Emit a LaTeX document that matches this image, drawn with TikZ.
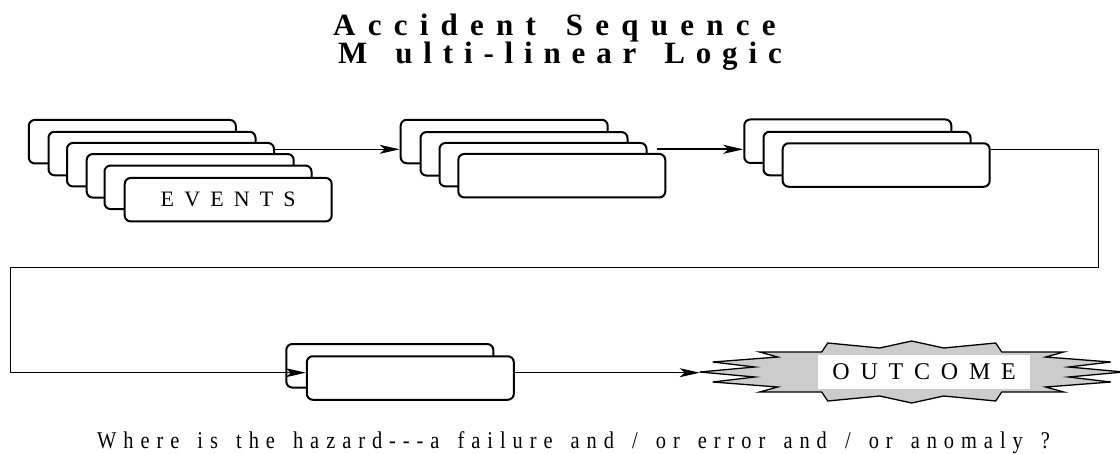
\documentclass[tikz,border=0pt]{standalone}
\usepackage{fontspec}
\setmainfont{Liberation Serif}
\newfontfamily\ttlfontA[LetterSpace=39.5,WordSpace=1.5]{Liberation Serif}
\newfontfamily\ttlfontB[LetterSpace=35,WordSpace=1.5]{Liberation Serif}
\newfontfamily\notefont[FakeStretch=0.85,LetterSpace=29,WordSpace=1.5]{Liberation Serif}
\usetikzlibrary{arrows.meta}
\pgfdeclarelayer{front}
\pgfsetlayers{main,front}
\begin{document}
\begin{tikzpicture}[x=1pt,y=-1pt,
  card/.style={draw, line width=2pt, rounded corners=6pt, fill=white,
    minimum width=207pt, minimum height=43.5pt, inner sep=0pt},
  conn/.style={line width=1pt},
  tipa/.style={-{Stealth[length=20pt,width=9pt,inset=5pt]}},
  lbl/.style={font=\fontsize{22}{22}\selectfont\addfontfeatures{LetterSpace=46}},
  ttl/.style={anchor=base west, inner sep=0pt},
  note/.style={font=\notefont\fontsize{24}{24}\selectfont, anchor=base west, inner sep=0pt}]
\useasboundingbox (0,0) rectangle (1120,453);

% title
\node[ttl, font=\ttlfontA\fontsize{31}{31}\selectfont\bfseries] (t1) at (333,35) {Accident Sequence};
\node[ttl, font=\ttlfontB\fontsize{31}{31}\selectfont\bfseries] (t2) at (338,63.3) {M ulti-linear Logic};

% group 1
\node[card] (b11) at (132.3,141.7) {};
\node[card] (b12) at (152.0,153.5) {};
\node[card] (b13) at (170.5,164.7) {};
\node[card] (b14) at (190.2,175.8) {};
\node[card] (b15) at (208.0,187.3) {};
\node[card,lbl] (b16) at (228.2,199.7) {EVENTS};

% group 2
\node[card] (b21) at (504.2,141.5) {};
\node[card] (b22) at (524.0,153.8) {};
\node[card] (b23) at (543.0,164.7) {};
\node[card] (b24) at (561.8,175.7) {};

% group 3
\node[card] (b31) at (847.8,141.2) {};
\node[card] (b32) at (867.0,153.5) {};
\node[card] (b33) at (886.2,165.0) {};

\coordinate (row) at (0,149.3);
\coordinate (row2) at (0,372.7);
\coordinate (r1) at (1098.3,267);
\coordinate (l1) at (10,267);

\draw[conn,tipa] (b13.east |- row) -- (b21.west |- row);
\draw[line width=2pt,tipa] ([xshift=9pt]b23.east |- row) -- (b31.west |- row);

% group 4
\node[card] (b41) at (389.8,365.8) {};
\begin{pgfonlayer}{front}
\node[card] (b42) at (410.3,378.0) {};
\end{pgfonlayer}
\draw[conn,tipa] (b33.east |- row) -| (r1) -- (l1) |- (b42.west |- row2);

% outcome star
\begin{scope}[shift={(911.7,372)}]
\draw[line width=1.3pt, fill=black!20, line join=miter]
  (-212,0) -- (-157,-5) -- (-199,-10) -- (-134,-15) -- (-152,-20) -- (-90,-20)
  -- (-84,-29) -- (-32,-24) -- (0,-31) -- (32,-24) -- (84,-29) -- (90,-20)
  -- (152,-20) -- (134,-15) -- (199,-10) -- (157,-5) -- (212,0)
  -- (157,5) -- (199,10) -- (134,15) -- (152,20) -- (90,20)
  -- (84,29) -- (32,24) -- (0,31) -- (-32,24) -- (-84,29) -- (-90,20)
  -- (-152,20) -- (-134,15) -- (-199,10) -- (-157,5) -- cycle;
\end{scope}
\coordinate (sw) at (699.7,372.7);
\node[fill=white, minimum width=211.7pt, minimum height=34pt, inner sep=0pt,
  font=\fontsize{24}{24}\selectfont\addfontfeatures{LetterSpace=45}] (oc) at (924.2,372) {OUTCOME};

\draw[conn,tipa] (b42.east |- row2) -- (sw);

% bottom note
\node[note] (q) at (97,448.3) {Where is the hazard-{}-{}-a failure and / or error and / or anomaly ?};
\end{tikzpicture}
\end{document}
